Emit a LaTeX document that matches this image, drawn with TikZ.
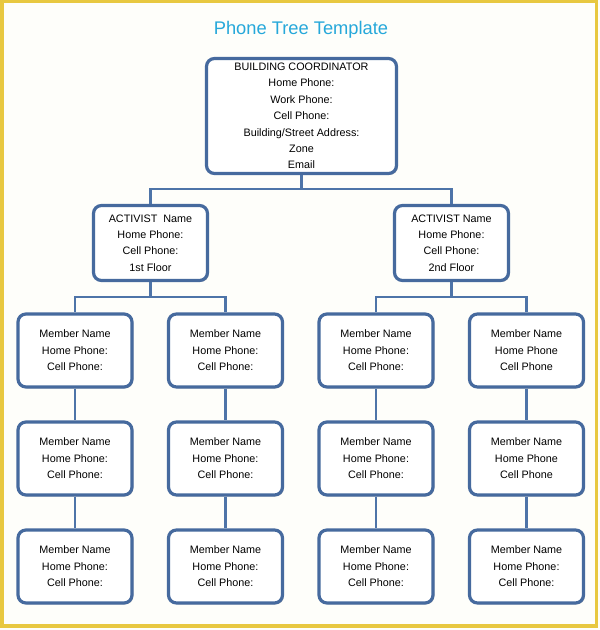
\documentclass[tikz,border=0pt]{standalone}
\usepackage{fontspec}
\setmainfont{Liberation Sans}
\usepackage{xcolor}
\usetikzlibrary{shadows}
\definecolor{boxblue}{RGB}{70,106,158}
\definecolor{linkblue}{RGB}{78,116,168}
\definecolor{titleblue}{RGB}{38,168,218}
\definecolor{framegold}{RGB}{232,200,64}
\definecolor{pagebg}{RGB}{254,254,250}
\begin{document}
\begin{tikzpicture} [
       x=1pt, y=1pt,
       auto,
       card/.style={rectangle, draw=boxblue, line width=3.2pt, fill=white,
               rounded corners=8pt, align=center,
               font=\fontsize{10.8}{16.4}\selectfont,
               drop shadow={shadow xshift=1.3pt, shadow yshift=-1.3pt,
                            opacity=.4, fill=black!70}},
       chief/.style={card, minimum width=190pt, minimum height=115pt},
       activist/.style={card, minimum width=114pt, minimum height=75pt},
       member/.style={card, minimum width=114pt, minimum height=73pt},
       heading/.style={text=titleblue, font=\fontsize{18.3}{22}\selectfont},
       line/.style={draw=linkblue, line width=2.4pt},
       ]
       \useasboundingbox (0,0) rectangle (600,630);
       \fill[pagebg] (0,0) rectangle (600,630);
       \draw[framegold, line width=3.5pt] (2,4) rectangle (596.5,628.5);

       \node (title) [heading] at (301,600) {Phone Tree Template};
       \node (coord) [chief] at (301.5,514) {BUILDING COORDINATOR\\Home Phone:\\Work Phone:\\Cell Phone:\\Building/Street Address:\\Zone\\Email};
       \node (actA) [activist] at (150.5,387) {ACTIVIST~~Name\\Home Phone:\\Cell Phone:\\1st Floor};
       \node (actB) [activist] at (451.5,387) {ACTIVIST Name\\Home Phone:\\Cell Phone:\\2nd Floor};

       % first row of members
       \begin{scope}[node distance=150.5pt]
       \node (memA1) [member] at (75,279.5) {Member Name\\Home Phone:\\Cell Phone:};
       \node (memB1) [member, right of = memA1] {Member Name\\Home Phone:\\Cell Phone:};
       \node (memC1) [member, right of = memB1] {Member Name\\Home Phone:\\Cell Phone:};
       \node (memD1) [member, right of = memC1] {Member Name\\Home Phone\\Cell Phone};
       \end{scope}

       % lower rows
       \begin{scope}[node distance=108pt]
       \node (memA2) [member, below of = memA1] {Member Name\\Home Phone:\\Cell Phone:};
       \node (memB2) [member, below of = memB1] {Member Name\\Home Phone:\\Cell Phone:};
       \node (memC2) [member, below of = memC1] {Member Name\\Home Phone:\\Cell Phone:};
       \node (memD2) [member, below of = memD1] {Member Name\\Home Phone\\Cell Phone};
       \node (memA3) [member, below of = memA2] {Member Name\\Home Phone:\\Cell Phone:};
       \node (memB3) [member, below of = memB2] {Member Name\\Home Phone:\\Cell Phone:};
       \node (memC3) [member, below of = memC2] {Member Name\\Home Phone:\\Cell Phone:};
       \node (memD3) [member, below of = memD2] {Member Name\\Home Phone:\\Cell Phone:};
       \end{scope}

       \begin{scope}[every path/.style=line]
        \path (coord.south) -- ++(0,-14) -| (actA.north);
        \path (coord.south) -- ++(0,-14) -| (actB.north);
        \path (actA.south) -- ++(0,-15) -| (memA1.north);
        \path (actA.south) -- ++(0,-15) -| (memB1.north);
        \path (actB.south) -- ++(0,-15) -| (memC1.north);
        \path (actB.south) -- ++(0,-15) -| (memD1.north);
        \path (memA1) -- (memA2);  \path (memA2) -- (memA3);
        \path (memB1) -- (memB2);  \path (memB2) -- (memB3);
        \path (memC1) -- (memC2);  \path (memC2) -- (memC3);
        \path (memD1) -- (memD2);  \path (memD2) -- (memD3);
       \end{scope}
\end{tikzpicture}
\end{document}
